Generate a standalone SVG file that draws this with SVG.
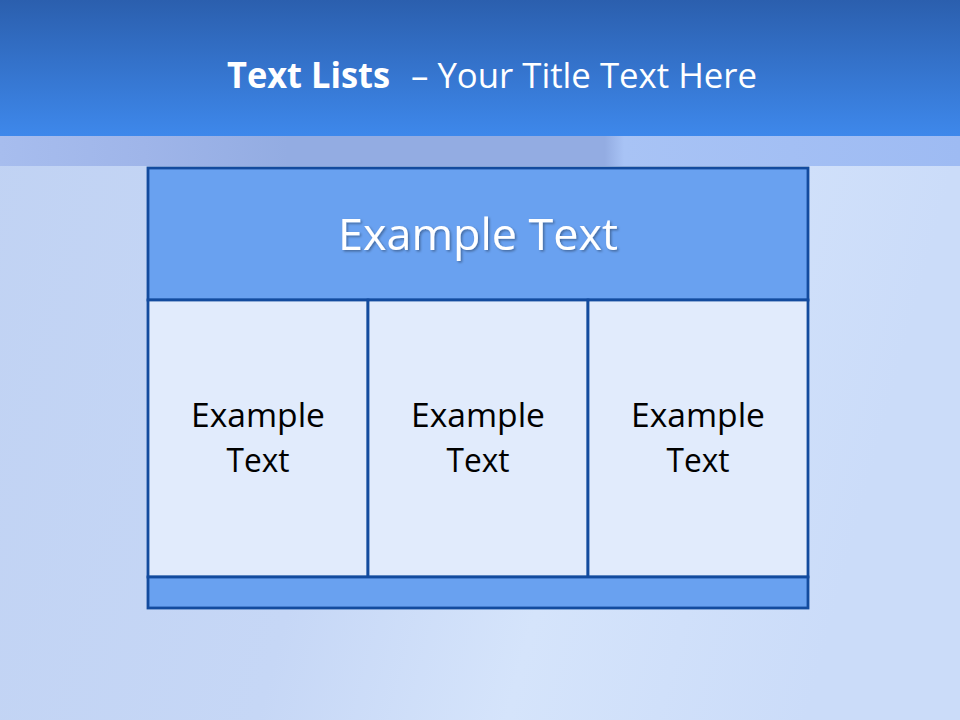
<svg xmlns="http://www.w3.org/2000/svg" width="960" height="720" viewBox="0 0 960 720">
<defs>
<linearGradient id="hdr" x1="0" y1="0" x2="0" y2="1">
<stop offset="0" stop-color="#2b5fae"/>
<stop offset="1" stop-color="#3e88eb"/>
</linearGradient>
<linearGradient id="strip" x1="0" y1="0" x2="1" y2="0">
<stop offset="0" stop-color="#a7bdee"/>
<stop offset="0.15" stop-color="#9fb5e9"/>
<stop offset="0.3" stop-color="#93ace2"/>
<stop offset="0.63" stop-color="#93ace2"/>
<stop offset="0.65" stop-color="#a8c3f5"/>
<stop offset="1" stop-color="#9ebbf3"/>
</linearGradient>
<linearGradient id="bg" x1="0" y1="0" x2="1" y2="0.2">
<stop offset="0" stop-color="#c0d2f3"/>
<stop offset="0.45" stop-color="#c6d7f6"/>
<stop offset="0.7" stop-color="#d5e4fb"/>
<stop offset="1" stop-color="#cbdcf9"/>
</linearGradient>
<filter id="sh" x="-10%" y="-20%" width="120%" height="140%">
<feDropShadow dx="1.5" dy="1.5" stdDeviation="1" flood-color="#000" flood-opacity="0.35"/>
</filter>
<style>
.cell{fill:#e1ebfc;stroke:#134b9e;stroke-width:2.8}
.bar{fill:#69a1f0;stroke:#134b9e;stroke-width:2.8}
.ct{font-family:"Open Sans","Noto Sans",sans-serif;font-size:32px;fill:#000;text-anchor:middle}
.tt{font-family:"Open Sans","Noto Sans",sans-serif;font-size:35px;fill:#fff}
</style>
</defs>
<rect x="0" y="0" width="960" height="720" fill="url(#bg)"/>
<rect x="0" y="136" width="960" height="30" fill="url(#strip)"/>
<rect x="0" y="0" width="960" height="136" fill="url(#hdr)"/>
<text class="tt" x="227" y="88" font-weight="bold" textLength="163" lengthAdjust="spacingAndGlyphs">Text Lists</text>
<text class="tt" x="411" y="88" textLength="346" lengthAdjust="spacingAndGlyphs">– Your Title Text Here</text>
<g id="header-cell">
<rect class="bar" x="148" y="168" width="660" height="132"/>
<text x="478" y="250" font-family="'Open Sans','Noto Sans',sans-serif" font-size="44" fill="#fff" text-anchor="middle" textLength="280" lengthAdjust="spacingAndGlyphs" filter="url(#sh)">Example Text</text>
</g>
<g id="cell1">
<rect class="cell" x="148" y="300" width="220" height="277"/>
<text class="ct" x="258" y="427" textLength="134" lengthAdjust="spacingAndGlyphs">Example</text>
<text class="ct" x="258" y="472" textLength="63" lengthAdjust="spacingAndGlyphs">Text</text>
</g>
<g id="cell2">
<rect class="cell" x="368" y="300" width="220" height="277"/>
<text class="ct" x="478" y="427" textLength="134" lengthAdjust="spacingAndGlyphs">Example</text>
<text class="ct" x="478" y="472" textLength="63" lengthAdjust="spacingAndGlyphs">Text</text>
</g>
<g id="cell3">
<rect class="cell" x="588" y="300" width="220" height="277"/>
<text class="ct" x="698" y="427" textLength="134" lengthAdjust="spacingAndGlyphs">Example</text>
<text class="ct" x="698" y="472" textLength="63" lengthAdjust="spacingAndGlyphs">Text</text>
</g>
<g id="footer-bar">
<rect class="bar" x="148" y="577" width="660" height="31"/>
</g>
<g id="connectors"/>
</svg>
